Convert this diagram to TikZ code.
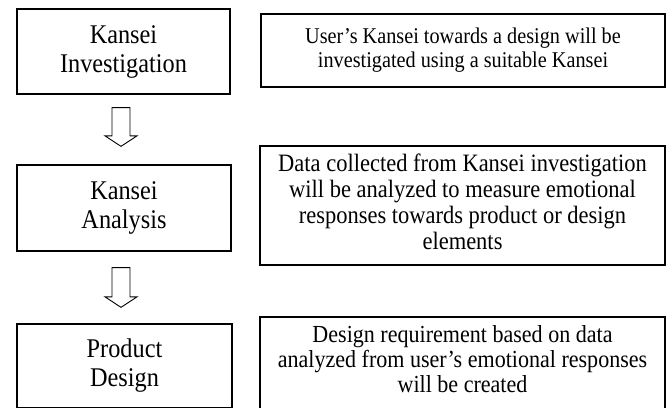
\documentclass[tikz,border=0pt]{standalone}
\usepackage{fontspec}
\setmainfont{Liberation Serif}
\newfontfamily\tallserif{Liberation Serif}[FakeStretch=0.9]
\usetikzlibrary{calc}
\newcommand\myblockarrow[2]{%
  \draw[barrow] ($(#1)+(-9,0)$) -- ($(#1)+(9,0)$) -- ($(#2)+(9,-10.5)$) -- ($(#2)+(16,-10.5)$)
    -- (#2) -- ($(#2)+(-16,-10.5)$) -- ($(#2)+(-9,-10.5)$) -- cycle;}
\begin{document}
\begin{tikzpicture}[x=1pt,y=-1pt,
  stagebox/.style={draw, line width=1.3pt, inner sep=0pt, align=center,
    font=\tallserif\fontsize{27}{29}\selectfont},
  descbox/.style={draw, line width=1.3pt, inner sep=0pt, align=center},
  barrow/.style={draw, line width=0.9pt, line join=miter}]
\path[use as bounding box, clip] (0,0) rectangle (666,407);
\fill[white] (0,0) rectangle (666,407);
% stage boxes
\node[stagebox, minimum width=213pt, minimum height=85pt] (s1) at (123.5,51.5) {Kansei\\Investigation};
\node[stagebox, minimum width=214pt, minimum height=86pt] (s2) at (124,208) {Kansei\\Analysis};
\node[stagebox, minimum width=215pt, minimum height=84pt] (s3) at (124.5,366) {Product\\Design};
% description boxes
\node[descbox, minimum width=404pt, minimum height=73pt, font=\tallserif\fontsize{22.5}{24}\selectfont] (d1) at (463,50.5)
  {User’s Kansei towards a design will be\\investigated using a suitable Kansei};
\node[descbox, minimum width=405pt, minimum height=119pt, text depth=8pt, font=\tallserif\fontsize{25}{26}\selectfont] (d2) at (462.5,205.5)
  {Data collected from Kansei investigation\\will be analyzed to measure emotional\\responses towards product or design\\elements};
\node[descbox, minimum width=405pt, minimum height=96pt, text depth=12pt, font=\tallserif\fontsize{24.5}{25}\selectfont] (d3) at (462.5,365)
  {Design requirement based on data\\analyzed from user’s emotional responses\\will be created};
% block arrows
\coordinate (a1s) at ($(s1.south)+(-2.5,13)$);
\coordinate (a1e) at ($(s2.north)+(-3,-18)$);
\coordinate (a2s) at ($(s2.south)+(-3,16)$);
\coordinate (a2e) at ($(s3.north)+(-3.5,-16)$);
\myblockarrow{a1s}{a1e}
\myblockarrow{a2s}{a2e}
\end{tikzpicture}
\end{document}
